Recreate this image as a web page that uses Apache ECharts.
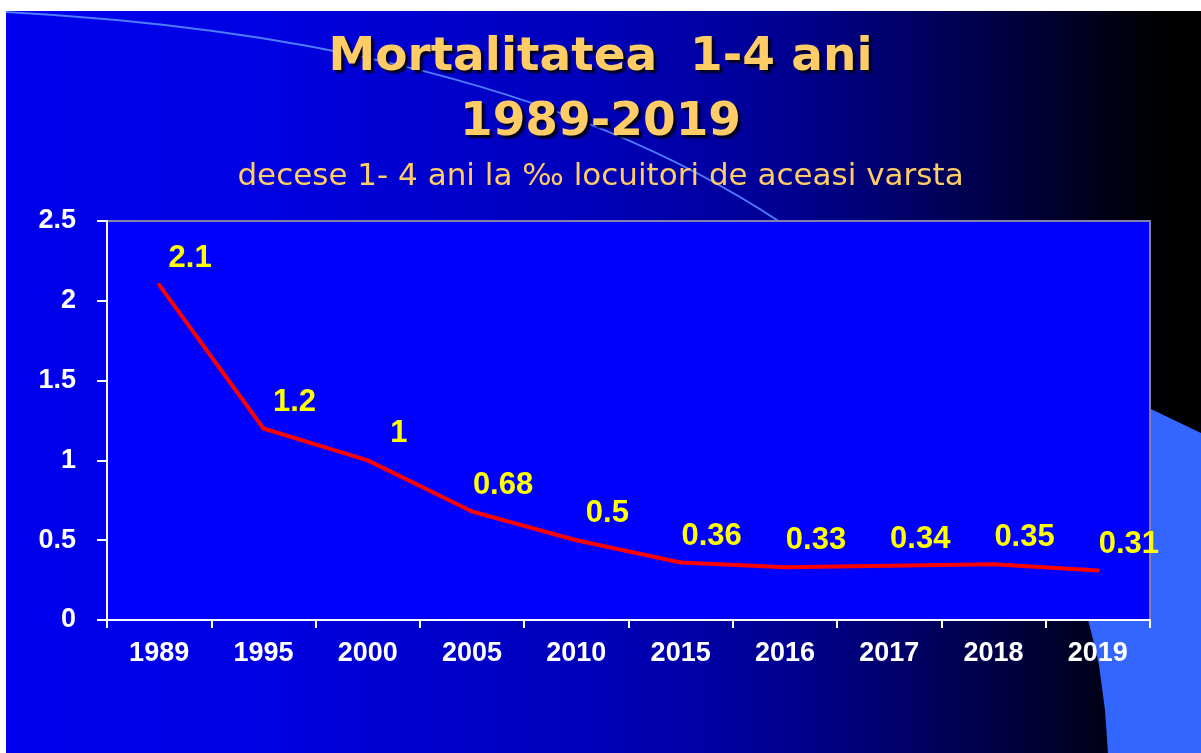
<!DOCTYPE html>
<html>
<head>
<meta charset="utf-8">
<script src="https://cdn.jsdelivr.net/npm/echarts@6/dist/echarts.min.js"></script>
<style>
  html, body { margin: 0; padding: 0; background: #fff; }
  #main { width: 1201px; height: 753px; }
</style>
</head>
<body>
<div id="main"></div>
<script>
// date preluate din grafic
var years = ['1989', '1995', '2000', '2005', '2010', '2015', '2016', '2017', '2018', '2019'];
var decese = [2.1, 1.2, 1, 0.68, 0.5, 0.36, 0.33, 0.34, 0.35, 0.31];
var yTicks = [0, 0.5, 1, 1.5, 2, 2.5];

var titleText = 'Mortalitatea  1-4 ani\n1989-2019';
var subText = 'decese 1- 4 ani la \u2030 locuitori de aceasi varsta';

var dom = document.getElementById('main');
var myChart = echarts.init(dom);

var axisFont = 'Liberation Sans, Arial, sans-serif';

option = {
    backgroundColor: '#ffffff',
    graphic: [
        {
            type: 'rect',
            z: -10,
            shape: { x: 6, y: 11, width: 1195, height: 742 },
            style: {
                fill: new echarts.graphic.LinearGradient(0, 0, 1, 0, [
                    { offset: 0, color: '#0000ee' },
                    { offset: 0.2, color: '#0000e4' },
                    { offset: 0.5, color: '#0000b8' },
                    { offset: 0.66, color: '#000090' },
                    { offset: 0.83, color: '#000045' },
                    { offset: 0.96, color: '#000004' },
                    { offset: 1, color: '#000000' }
                ])
            }
        },
        {
            // forma albastru deschis din dreapta jos
            type: 'polygon',
            z: -9,
            shape: {
                points: [[1080, 375], [1201, 433], [1201, 753], [1108, 753],
                         [1105, 710], [1099, 665], [1092, 635], [1084, 605], [1078, 585]]
            },
            style: { fill: '#3366ff' }
        },
        {
            type: 'bezierCurve',
            z: -8,
            shape: { x1: 6, y1: 12, cpx1: 250, cpy1: 25, cpx2: 550, cpy2: 70, x2: 780, y2: 222 },
            style: { stroke: '#4d7dff', lineWidth: 2, fill: null }
        }
    ],
    title: [
        {
            text: titleText,
            left: 'center',
            top: 25,
            padding: 0,
            textStyle: {
                color: '#ffcc66',
                fontFamily: 'DejaVu Sans, Verdana, sans-serif',
                fontWeight: 'bold',
                fontSize: 47,
                lineHeight: 65,
                textShadowColor: '#000022',
                textShadowOffsetX: 3,
                textShadowOffsetY: 3,
                textShadowBlur: 2
            }
        },
        {
            text: subText,
            left: 'center',
            top: 160,
            padding: 0,
            textStyle: {
                color: '#ffcc66',
                fontFamily: 'DejaVu Sans, Verdana, sans-serif',
                fontWeight: 'normal',
                fontSize: 31,
                lineHeight: 34
            }
        }
    ],
    grid: {
        left: 107,
        top: 221,
        right: 51,
        bottom: 133,
        show: true,
        backgroundColor: '#0000ff',
        borderColor: '#8080a8',
        borderWidth: 2
    },
    xAxis: {
        type: 'category',
        boundaryGap: true,
        data: years,
        axisLine: { lineStyle: { color: '#ffffff', width: 2 } },
        axisTick: { show: true, length: 8, lineStyle: { color: '#ffffff', width: 2 } },
        axisLabel: {
            color: '#ffffff',
            fontFamily: axisFont,
            fontWeight: 'bold',
            fontSize: 27,
            margin: 20
        },
        splitLine: { show: false }
    },
    yAxis: {
        type: 'value',
        min: yTicks[0],
        max: yTicks[yTicks.length - 1],
        interval: 0.5,
        axisLine: { show: true, lineStyle: { color: '#ffffff', width: 2 } },
        axisTick: { show: true, length: 10, lineStyle: { color: '#ffffff', width: 2 } },
        axisLabel: {
            color: '#ffffff',
            fontFamily: axisFont,
            fontWeight: 'bold',
            fontSize: 27,
            margin: 31
        },
        splitLine: { show: false }
    },
    series: [
        {
            name: 'decese',
            type: 'line',
            data: decese,
            smooth: false,
            symbol: 'circle',
            symbolSize: 4,
            itemStyle: { color: '#ff0000' },
            lineStyle: { color: '#ff0000', width: 4 },
            label: {
                show: true,
                position: 'top',
                offset: [31, -4],
                color: '#ffff00',
                fontFamily: axisFont,
                fontWeight: 'bold',
                fontSize: 31
            }
        }
    ],
    animation: false
};

if (option && typeof option === "object") {
    myChart.setOption(option, true);
}
</script>
</body>
</html>
